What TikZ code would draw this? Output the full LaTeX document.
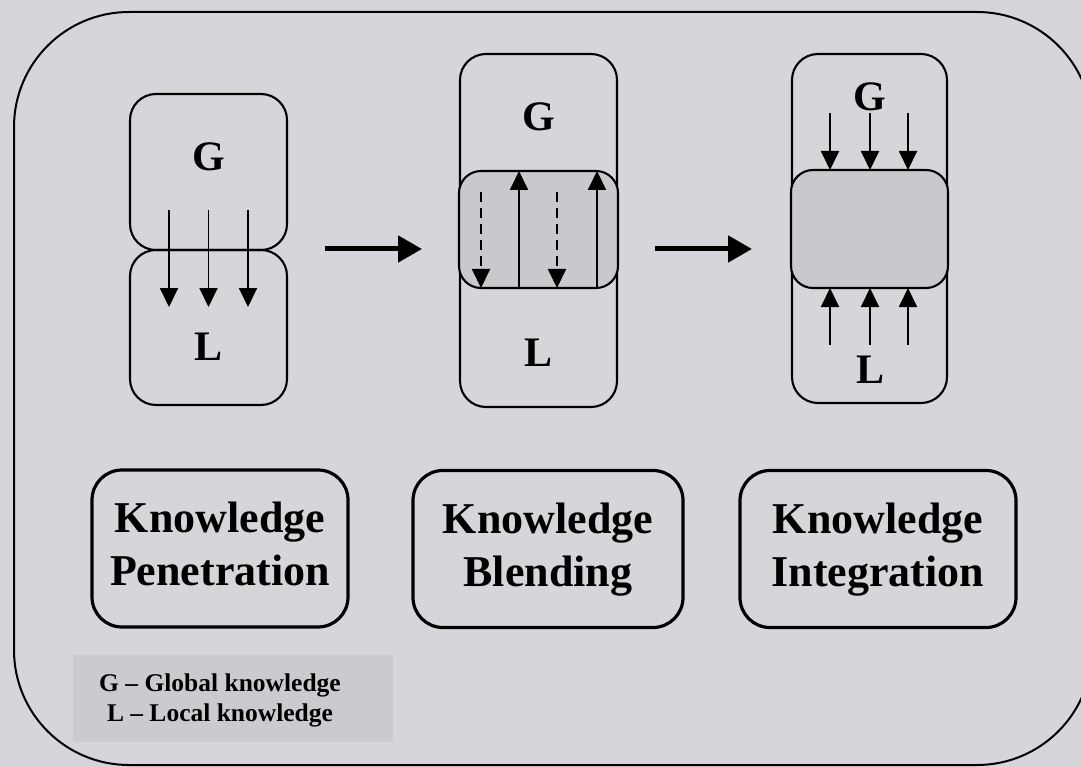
\documentclass[tikz,border=0pt]{standalone}
\usepackage{fontspec}
\setmainfont{Liberation Serif}
\usetikzlibrary{arrows.meta}

\definecolor{paper}{RGB}{214,214,218}
\definecolor{shade}{RGB}{201,201,205}
\definecolor{keygrey}{RGB}{203,203,207}

\tikzset{
  part/.style={draw, line width=2.1pt, rounded corners=26pt, inner sep=0pt},
  core/.style={part, fill=shade, rounded corners=22pt},
  letter/.style={font=\fontsize{42}{50}\selectfont\bfseries},
  flow/.style={-{Triangle[length=19pt,width=18pt]}, line width=1.9pt},
  back/.style={flow, dash pattern=on 10pt off 6pt},
  step arrow/.style={-{Triangle[length=24pt,width=26pt]}, line width=5pt},
  stage/.style={draw, line width=3.2pt, rounded corners=30pt, minimum height=157pt,
    align=center, font=\fontsize{44}{53}\selectfont\bfseries},
}

\begin{document}
\begin{tikzpicture}[x=1pt,y=-1pt]

\fill [paper] (0,0) rectangle (1081,767);
\useasboundingbox (0,0) rectangle (1081,767);

\draw [line width=2pt, rounded corners=115pt] (14,12) rectangle (1092,765);

% penetration
\node [part, minimum width=157pt, minimum height=156pt] (penG) at (208.5,172) {};
\node [part, minimum width=157pt, minimum height=155pt] (penL) at (208.5,327.5) {};
\node [letter] (penGtxt) at (208.5,157) {G};
\node [letter] (penLtxt) at (208.5,347) {L};

\path (169,210) coordinate (pA1);
\path (169,307) coordinate (pB1);
\path (208.5,210) coordinate (pA2);
\path (208.5,307) coordinate (pB2);
\path (248,210) coordinate (pA3);
\path (248,307) coordinate (pB3);

\draw [flow] (pA1) -- (pB1);
\draw [flow] (pA2) -- (pB2);
\draw [flow] (pA3) -- (pB3);

% blending
\node [part, minimum width=157pt, minimum height=353pt] (blend) at (538.5,230.5) {};
\node [core, minimum width=159pt, minimum height=117pt] (blendCore) at (538.5,229.5) {};
\node [letter] (blendGtxt) at (538.5,117) {G};
\node [letter] (blendLtxt) at (538.5,353) {L};

\path (481,192) coordinate (bA1);
\path (481,288) coordinate (bB1);
\path (557,192) coordinate (bA2);
\path (557,288) coordinate (bB2);
\path (519,288) coordinate (bC1);
\path (519,171) coordinate (bD1);
\path (597,288) coordinate (bC2);
\path (597,171) coordinate (bD2);

\draw [back] (bA1) -- (bB1);
\draw [back] (bA2) -- (bB2);
\draw [flow] (bC1) -- (bD1);
\draw [flow] (bC2) -- (bD2);

% integration
\node [part, minimum width=155pt, minimum height=349pt] (integ) at (869.5,228.5) {};
\node [core, minimum width=157pt, minimum height=118pt] (integCore) at (869.5,229) {};
\node [letter] (integGtxt) at (870,97) {G};
\node [letter] (integLtxt) at (870,370) {L};

\path (830,113) coordinate (iA1);
\path (830,170) coordinate (iB1);
\path (870,113) coordinate (iA2);
\path (870,170) coordinate (iB2);
\path (908,113) coordinate (iA3);
\path (908,170) coordinate (iB3);
\path (830,345) coordinate (iC1);
\path (830,288) coordinate (iD1);
\path (870,345) coordinate (iC2);
\path (870,288) coordinate (iD2);
\path (908,345) coordinate (iC3);
\path (908,288) coordinate (iD3);

\draw [flow] (iA1) -- (iB1);
\draw [flow] (iA2) -- (iB2);
\draw [flow] (iA3) -- (iB3);
\draw [flow] (iC1) -- (iD1);
\draw [flow] (iC2) -- (iD2);
\draw [flow] (iC3) -- (iD3);

% between the stages
\path (325,249) coordinate (s1);
\path (422,249) coordinate (s2);
\path (655,249) coordinate (s3);
\path (752,249) coordinate (s4);

\draw [step arrow] (s1) -- (s2);
\draw [step arrow] (s3) -- (s4);

% names
\node [stage, minimum width=256pt] (penName) at (220,548.5) {Knowledge\strut\\Penetration\strut};
\node [stage, minimum width=270pt] (blendName) at (548,549) {Knowledge\strut\\Blending\strut};
\node [stage, minimum width=276pt] (integName) at (878,549) {Knowledge\strut\\Integration\strut};

% key
\node [fill=keygrey, minimum width=320pt, minimum height=87pt] (keyBox) at (233,698.5) {};
\node [align=center, font=\fontsize{25.5}{30}\selectfont\bfseries] (keyTxt) at (220,700)
  {G -- Global knowledge\\L -- Local knowledge};

\end{tikzpicture}
\end{document}
